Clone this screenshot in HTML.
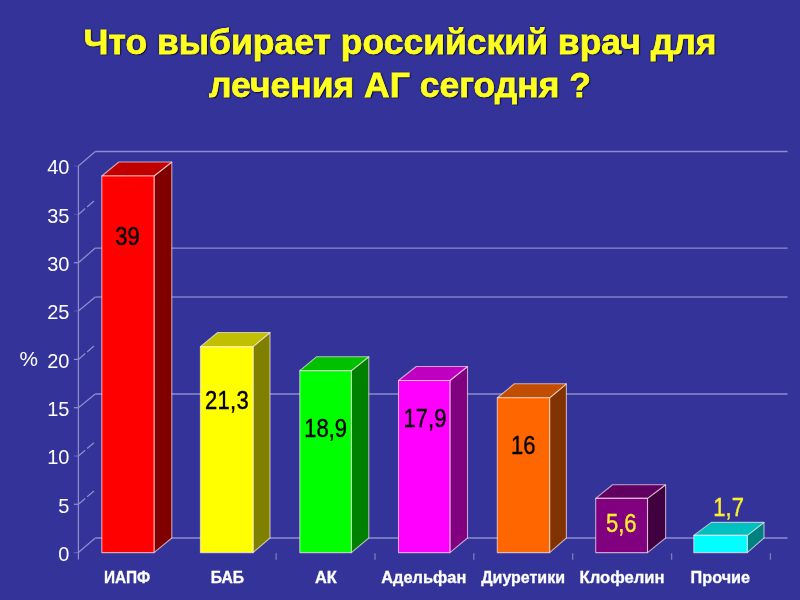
<!DOCTYPE html>
<html lang="ru"><head><meta charset="utf-8"><title>Что выбирает российский врач для лечения АГ сегодня ?</title>
<style>
html,body{margin:0;padding:0;}
body{width:800px;height:600px;overflow:hidden;background:#333399;position:relative;font-family:"Liberation Sans",sans-serif;}
h1{position:absolute;left:0;top:21.3px;width:800px;margin:0;text-align:center;color:#ffff20;font-weight:bold;font-size:35.5px;line-height:43px;-webkit-text-stroke:0.8px #ffff20;text-shadow:1.3px 1.3px 1px rgba(5,5,50,.9),0 0 2px rgba(10,10,70,.9),0 0 2px rgba(10,10,70,.9);}
svg{position:absolute;left:0;top:0;}
text{font-family:"Liberation Sans",sans-serif;}
.ax{font-size:20px;fill:#fff;text-anchor:end;}
.cat{font-size:16px;font-weight:bold;fill:#fff;stroke:#fff;stroke-width:0.3px;text-anchor:middle;}
.val{font-size:22px;text-anchor:middle;stroke-width:0.35px;}
</style></head><body>
<h1>Что выбирает российский врач для<br>лечения АГ сегодня ?</h1>
<svg width="800" height="600" viewBox="0 0 800 600">

<g stroke="#8c8ccc" stroke-width="1.3" fill="none">
<line x1="95.3" y1="538.0" x2="787.6" y2="538.0" opacity="1"/>
<line x1="73.9" y1="552.6" x2="78.4" y2="552.6" opacity="0.5"/>
<line x1="78.4" y1="552.6" x2="95.3" y2="538.0"/>
<line x1="73.9" y1="504.3" x2="78.4" y2="504.3" opacity="1"/>
<line x1="78.4" y1="504.3" x2="95.3" y2="489.8" stroke-dasharray="9 2.5"/>
<line x1="73.9" y1="456.0" x2="78.4" y2="456.0" opacity="0.5"/>
<line x1="78.4" y1="456.0" x2="95.3" y2="441.5" stroke-dasharray="9 2.5"/>
<line x1="95.3" y1="394.0" x2="787.6" y2="394.0" opacity="1"/>
<line x1="73.9" y1="407.7" x2="78.4" y2="407.7" opacity="1"/>
<line x1="78.4" y1="407.7" x2="95.3" y2="394.0"/>
<line x1="73.9" y1="359.4" x2="78.4" y2="359.4" opacity="1"/>
<line x1="78.4" y1="359.4" x2="95.3" y2="344.9" stroke-dasharray="9 2.5"/>
<line x1="95.3" y1="297.0" x2="787.6" y2="297.0" opacity="0.85"/>
<line x1="73.9" y1="311.0" x2="78.4" y2="311.0" opacity="0.3"/>
<line x1="78.4" y1="311.0" x2="95.3" y2="297.0"/>
<line x1="95.3" y1="248.1" x2="787.6" y2="248.1" opacity="1"/>
<line x1="73.9" y1="262.7" x2="78.4" y2="262.7" opacity="1"/>
<line x1="78.4" y1="262.7" x2="95.3" y2="248.1"/>
<line x1="73.9" y1="214.4" x2="78.4" y2="214.4" opacity="0.3"/>
<line x1="78.4" y1="214.4" x2="95.3" y2="199.9" stroke-dasharray="9 2.5"/>
<line x1="95.3" y1="151.5" x2="787.6" y2="151.5" opacity="1"/>
<line x1="73.9" y1="166.1" x2="78.4" y2="166.1" opacity="0.3"/>
<line x1="78.4" y1="166.1" x2="95.3" y2="151.5"/>
<line x1="78.4" y1="166.1" x2="78.4" y2="559.5"/>
<line x1="276.1" y1="553.2" x2="276.1" y2="559.8" opacity="0.8"/>
<line x1="375.0" y1="553.2" x2="375.0" y2="559.8" opacity="0.8"/>
<line x1="473.8" y1="553.2" x2="473.8" y2="559.8" opacity="0.8"/>
<line x1="572.7" y1="553.2" x2="572.7" y2="559.8" opacity="0.8"/>
<line x1="671.6" y1="553.2" x2="671.6" y2="559.8" opacity="0.8"/>
<line x1="770.4" y1="553.2" x2="770.4" y2="559.8" opacity="0.8"/>
</g>
<text class="ax" transform="translate(69.4,560.8) scale(1,1.05)">0</text>
<text class="ax" transform="translate(69.4,512.5) scale(1,1.05)">5</text>
<text class="ax" transform="translate(69.4,464.2) scale(1,1.05)">10</text>
<text class="ax" transform="translate(69.4,415.9) scale(1,1.05)">15</text>
<text class="ax" transform="translate(69.4,367.6) scale(1,1.05)">20</text>
<text class="ax" transform="translate(69.4,319.2) scale(1,1.05)">25</text>
<text class="ax" transform="translate(69.4,270.9) scale(1,1.05)">30</text>
<text class="ax" transform="translate(69.4,222.6) scale(1,1.05)">35</text>
<text class="ax" transform="translate(69.4,174.3) scale(1,1.05)">40</text>
<text transform="translate(19.5,366.2) scale(1,1.05)" font-size="20" fill="#fff" textLength="18.5" lengthAdjust="spacingAndGlyphs">%</text>
<g stroke="rgba(255,238,238,0.66)" stroke-width="1.1" stroke-linejoin="round">
<polygon fill="#800000" points="154.0,552.6 171.8,538.0 171.8,162.0 154.0,176.0"/>
<polygon fill="#c00000" points="101.8,176.0 118.8,162.0 171.8,162.0 154.0,176.0"/>
<rect fill="#ff0000" x="101.8" y="176.0" width="52.2" height="376.6"/>
</g>
<text class="val" transform="translate(127.5,245.4) scale(1,1.15)" fill="#000" stroke="#000">39</text>
<text class="cat" transform="translate(127.1,583) scale(1,1.03)" textLength="46.2" lengthAdjust="spacingAndGlyphs">ИАПФ</text>
<g stroke="rgba(255,238,238,0.66)" stroke-width="1.1" stroke-linejoin="round">
<polygon fill="#808000" points="253.1,552.6 270.0,538.0 270.0,332.5 253.1,346.6"/>
<polygon fill="#c0c000" points="200.4,346.6 217.6,332.5 270.0,332.5 253.1,346.6"/>
<rect fill="#ffff00" x="200.4" y="346.6" width="52.7" height="206.0"/>
</g>
<text class="val" transform="translate(226.9,408.8) scale(1,1.15)" fill="#000" stroke="#000" textLength="43.6">21,3</text>
<text class="cat" transform="translate(227.4,583) scale(1,1.03)" textLength="33.3" lengthAdjust="spacingAndGlyphs">БАБ</text>
<g stroke="rgba(255,238,238,0.66)" stroke-width="1.1" stroke-linejoin="round">
<polygon fill="#008000" points="351.4,552.6 368.8,538.0 368.8,356.8 351.4,370.6"/>
<polygon fill="#00c000" points="299.8,370.6 316.4,356.8 368.8,356.8 351.4,370.6"/>
<rect fill="#00ff00" x="299.8" y="370.6" width="51.6" height="182.0"/>
</g>
<text class="val" transform="translate(325.6,436.8) scale(1,1.15)" fill="#000" stroke="#000">18,9</text>
<text class="cat" transform="translate(325.9,583) scale(1,1.03)" textLength="21.8" lengthAdjust="spacingAndGlyphs">АК</text>
<g stroke="rgba(255,238,238,0.66)" stroke-width="1.1" stroke-linejoin="round">
<polygon fill="#800080" points="449.9,552.6 467.5,538.0 467.5,366.5 449.9,380.5"/>
<polygon fill="#c000c0" points="398.5,380.5 416.2,366.5 467.5,366.5 449.9,380.5"/>
<rect fill="#ff00ff" x="398.5" y="380.5" width="51.4" height="172.1"/>
</g>
<text class="val" transform="translate(425,427.3) scale(1,1.15)" fill="#000" stroke="#000">17,9</text>
<text class="cat" transform="translate(423.8,583) scale(1,1.03)" textLength="85" lengthAdjust="spacingAndGlyphs">Адельфан</text>
<g stroke="rgba(255,238,238,0.66)" stroke-width="1.1" stroke-linejoin="round">
<polygon fill="#803300" points="549.6,552.6 566.4,538.0 566.4,383.8 549.6,397.8"/>
<polygon fill="#c04d00" points="497.3,397.8 514.4,383.8 566.4,383.8 549.6,397.8"/>
<rect fill="#ff6600" x="497.3" y="397.8" width="52.3" height="154.8"/>
</g>
<text class="val" transform="translate(523.2,454.3) scale(1,1.15)" fill="#000" stroke="#000">16</text>
<text class="cat" transform="translate(523.1,583) scale(1,1.03)" textLength="83.8" lengthAdjust="spacingAndGlyphs">Диуретики</text>
<g stroke="rgba(255,238,238,0.66)" stroke-width="1.1" stroke-linejoin="round">
<polygon fill="#400040" points="647.5,552.6 665.6,538.0 665.6,484.8 647.5,498.4"/>
<polygon fill="#600060" points="595.7,498.4 612.6,484.8 665.6,484.8 647.5,498.4"/>
<rect fill="#800080" x="595.7" y="498.4" width="51.8" height="54.2"/>
</g>
<text class="val" transform="translate(621.2,532) scale(1,1.15)" fill="#ffee30" stroke="#ffee30">5,6</text>
<text class="cat" transform="translate(622,583) scale(1,1.03)" textLength="85" lengthAdjust="spacingAndGlyphs">Клофелин</text>
<g stroke="rgba(255,238,238,0.66)" stroke-width="1.1" stroke-linejoin="round">
<polygon fill="#008080" points="747.3,552.6 764.0,538.0 764.0,522.4 747.3,535.4"/>
<polygon fill="#00c0c0" points="693.8,535.4 711.2,522.4 764.0,522.4 747.3,535.4"/>
<rect fill="#00ffff" x="693.8" y="535.4" width="53.5" height="17.2"/>
</g>
<text class="val" transform="translate(728.6,516.2) scale(1,1.15)" fill="#ffee30" stroke="#ffee30">1,7</text>
<text class="cat" transform="translate(720.3,583) scale(1,1.03)" textLength="59.5" lengthAdjust="spacingAndGlyphs">Прочие</text>
</svg></body></html>
